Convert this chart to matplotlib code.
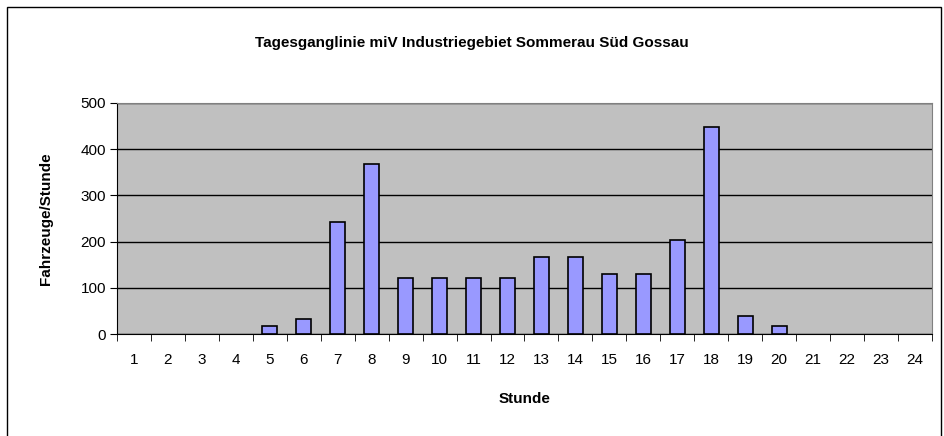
import matplotlib
matplotlib.use("Agg")
import matplotlib.pyplot as plt
from matplotlib.patches import Rectangle

hours = [str(h) for h in range(1, 25)]
vehicles = [0, 0, 0, 0, 18, 33, 243, 368, 121, 121, 121, 121,
            166, 166, 130, 130, 203, 449, 40, 18, 0, 0, 0, 0]
yticks = [0, 100, 200, 300, 400, 500]

plt.rcParams['font.family'] = ['Liberation Sans', 'DejaVu Sans']

fig = plt.figure(figsize=(9.44, 4.36), dpi=100)
fig.patches.append(Rectangle((7/944, -0.01), 934/944, 1 - 7/436 + 0.01, transform=fig.transFigure,
                             fill=False, edgecolor='black', linewidth=1))
ax = fig.add_axes([117/944, 1 - 334/436, (932-117)/944, (334-103)/436])
ax.set_facecolor('#C0C0C0')
x = list(range(len(hours)))
edges = ['black' if v > 0 else 'none' for v in vehicles]
ax.bar(x, vehicles, width=0.45, color='#9999FF', edgecolor=edges, linewidth=1.2, zorder=3)
ax.set_xlim(-0.5, len(hours) - 0.5)
ax.set_ylim(0, 500)
ax.set_yticks(yticks)
ax.yaxis.grid(True, color='black', linewidth=1, zorder=1)
ax.set_axisbelow(True)
ax.set_xticks(x)
ax.set_xticklabels(hours, fontsize=11)
ax.set_xticks([i + 0.5 for i in range(-1, len(hours))], minor=True)
ax.tick_params(axis='x', which='major', length=0, pad=14)
ax.tick_params(axis='x', which='minor', length=5, direction='out', color='black')
ax.tick_params(axis='y', length=5, direction='out', labelsize=11, pad=3)
for s in ['top', 'right']:
    ax.spines[s].set_color('#808080')
for s in ['left', 'bottom']:
    ax.spines[s].set_color('black')
ax.set_xlabel('Stunde', fontsize=11, fontweight='bold', labelpad=18)
ax.set_ylabel('Fahrzeuge/Stunde', fontsize=11, fontweight='bold', labelpad=20)
fig.text(0.5, 1 - 43/436, 'Tagesganglinie miV Industriegebiet Sommerau Süd Gossau',
         ha='center', va='center', fontsize=11, fontweight='bold')
fig.savefig('out.png', dpi=100)
